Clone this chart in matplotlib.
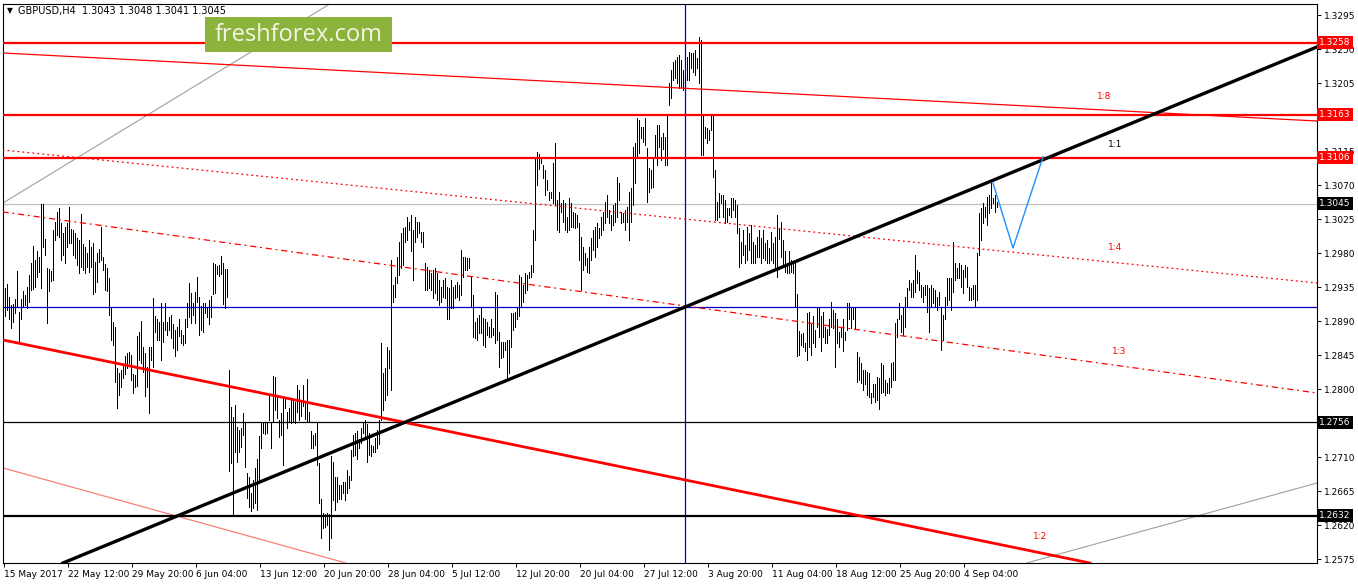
import matplotlib
matplotlib.use('Agg')
import matplotlib.pyplot as plt
from matplotlib.patches import Rectangle

# H4 bar highs / lows in pips (price * 10000), left to right
bar_high = [12909, 12934, 12939, 12922, 12911, 12913, 12919, 12956, 12902, 12919, 12930, 12925, 12935, 12951, 12967,
            12989, 12971, 12983, 12975, 13045, 13045, 12999, 12960, 12959, 12956, 13011, 13021, 13034, 13040, 13020,
            13007, 13015, 13020, 13041, 13012, 13011, 13007, 13000, 12997, 13032, 12992, 12988, 12980, 12997, 12988,
            12993, 12968, 12980, 12985, 13015, 12975, 12966, 12960, 12947, 12909, 12889, 12882, 12828, 12821, 12825,
            12832,
            12844, 12848, 12849, 12845, 12820, 12819, 12870, 12876, 12890, 12856, 12848, 12829, 12856, 12856, 12921,
            12897, 12892, 12889, 12914, 12889, 12914, 12889, 12895, 12898, 12886, 12878, 12882, 12893, 12878, 12872,
            12892, 12914, 12940, 12927, 12914, 12929, 12948, 12922, 12910, 12914, 12914, 12909, 12918, 12923, 12967,
            12966, 12963, 12964, 12976, 12967, 12959, 12959, 12825, 12776, 12763, 12779, 12750, 12746, 12749, 12768,
            12756, 12689, 12684,
            12662, 12680, 12695, 12708, 12738, 12755, 12756, 12755, 12756, 12792, 12755, 12817, 12816, 12790, 12759,
            12768, 12790, 12790, 12770, 12775, 12788, 12786, 12783, 12805, 12799, 12786, 12805, 12781, 12813, 12770,
            12744, 12739, 12742, 12756, 12702, 12655, 12636, 12635, 12636, 12635, 12711, 12704, 12684, 12684, 12673,
            12673, 12677, 12677, 12693, 12685, 12719, 12739, 12742, 12744, 12734, 12749, 12755, 12759, 12754, 12742,
            12726, 12724,
            12735, 12746, 12759, 12861, 12821, 12828, 12855, 12852, 12971, 12938,
            12948, 12975, 12995, 13007, 13013, 13015, 13028, 13021, 13030, 13011,
            13028, 13021, 13021, 13008, 13008, 12967, 12962, 12958, 12954, 12958,
            12960, 12954, 12944, 12935, 12944, 12947, 12935, 12934, 12944, 12935,
            12938, 12942, 12938, 12984, 12975, 12975, 12974, 12974, 12948, 12925,
            12889, 12894, 12898, 12909, 12894, 12892, 12889, 12882, 12892, 12881,
            12929, 12925, 12876, 12862, 12862, 12862, 12865, 12865, 12901, 12901,
            12902, 12907, 12951, 12948, 12938, 12954, 12951, 12955, 12964, 13011,
            13106, 13114, 13111, 13107, 13097, 13090, 13077, 13061, 13061, 13099,
            13126, 13050, 13061, 13046, 13050, 13046, 13028, 13053, 13046, 13034,
            13033, 13030, 13020, 13001, 12988, 12980, 12974, 12988, 13000, 13011,
            13015, 13020, 13013, 13027, 13034, 13048, 13057, 13037, 13030, 13044,
            13046, 13081, 13073, 13034, 13033, 13037, 13041, 13061, 13066, 13120,
            13126, 13159, 13156, 13147, 13147, 13159, 13119, 13093, 13090, 13107,
            13136, 13150, 13150, 13134, 13139, 13134, 13163, 13205, 13222, 13233,
            13236, 13240, 13242, 13236, 13222, 13213, 13240, 13246, 13245, 13245,
            13249, 13238, 13266, 13262, 13163, 13147, 13146, 13143, 13163, 13163,
            13090, 13048, 13060, 13057, 13057, 13050, 13040, 13040, 13053, 13053,
            13050, 13044, 13013, 12995, 13011, 12991, 13015, 13007, 13017, 12995,
            12991, 13001, 13011, 13000, 13011, 12993, 12997, 12987, 13008, 12993,
            13001, 13030, 13013, 13021, 12997, 12982, 12967, 12982, 12971, 12967,
            12968, 12926, 12877, 12873, 12874, 12861, 12901, 12902, 12888, 12896,
            12878, 12907, 12909, 12896, 12902, 12882, 12880, 12892, 12915, 12905,
            12901, 12892, 12876, 12882, 12892, 12876, 12914, 12914, 12909, 12907,
            12909, 12849, 12843, 12835, 12825, 12825, 12823, 12821, 12795, 12806,
            12806, 12816, 12815, 12835, 12832, 12812, 12808, 12815, 12835, 12836,
            12888, 12892, 12914, 12898, 12909, 12922, 12934, 12944, 12940, 12944,
            12978, 12958, 12955, 12938, 12935, 12938, 12938, 12934, 12938, 12934,
            12931, 12922, 12929, 12909, 12898, 12922, 12947, 12947, 12947, 12995,
            12967, 12960, 12967, 12964, 12958, 12964, 12962, 12935, 12934, 12938,
            12938, 12980, 13033, 13040, 13046, 13041, 13054, 13057, 13073, 13053,
            13057, 13048]
bar_low = [12884, 12897, 12905, 12893, 12881, 12889, 12901, 12909, 12864, 12892, 12909, 12911, 12907, 12915, 12931,
           12932, 12935, 12948, 12955, 12934, 12988, 12978, 12888, 12930, 12943, 12944, 12997, 13004, 13001, 12971,
           12978, 12967, 12988, 12993, 12993, 12978, 12974, 12964, 12954, 12962, 12958, 12954, 12962, 12955, 12962,
           12926, 12929, 12942, 12968, 12971, 12958, 12931, 12930, 12898, 12865, 12858, 12809, 12775, 12792, 12803,
           12815,
           12820, 12828, 12835, 12812, 12795, 12803, 12804, 12839, 12835, 12823, 12791, 12803, 12768, 12839, 12829,
           12876, 12865, 12865, 12839, 12862, 12878, 12872, 12878, 12868, 12854, 12844, 12852, 12870, 12861, 12858,
           12861, 12882, 12895, 12888, 12898, 12888, 12915, 12872, 12878, 12876, 12901, 12895, 12886, 12895, 12926,
           12927, 12952, 12950, 12952, 12913, 12907, 12922, 12692, 12702, 12633, 12717, 12704, 12717, 12723, 12739,
           12697, 12656, 12644,
           12638, 12642, 12649, 12640, 12680, 12722, 12742, 12741, 12742, 12759, 12722, 12757, 12772, 12761, 12737,
           12739, 12700, 12775, 12748, 12756, 12755, 12757, 12755, 12770, 12759, 12764, 12777, 12760, 12756, 12757,
           12722, 12722, 12726, 12700, 12649, 12603, 12616, 12618, 12620, 12587, 12603, 12653, 12640, 12651, 12655,
           12655, 12662, 12653, 12662, 12669, 12680, 12711, 12713, 12708, 12722, 12728, 12742, 12737, 12704, 12713,
           12711, 12717,
           12717, 12722, 12727, 12759, 12772, 12786, 12792, 12828, 12799, 12915,
           12922, 12940, 12951, 12960, 12964, 12995, 12997, 13011, 12982, 12944,
           12995, 13001, 13007, 12995, 12988, 12931, 12931, 12934, 12931, 12921,
           12927, 12918, 12911, 12915, 12922, 12921, 12892, 12892, 12907, 12907,
           12921, 12922, 12918, 12925, 12948, 12958, 12958, 12960, 12909, 12869,
           12868, 12865, 12874, 12874, 12858, 12855, 12872, 12869, 12869, 12872,
           12861, 12865, 12829, 12841, 12843, 12852, 12812, 12821, 12855, 12878,
           12882, 12892, 12896, 12909, 12915, 12927, 12931, 12947, 12948, 12955,
           12997, 13070, 13091, 13099, 13079, 13057, 13064, 13050, 13053, 13046,
           13044, 13011, 13008, 13034, 13021, 13011, 13008, 13011, 13015, 13015,
           13013, 13015, 12971, 12931, 12958, 12964, 12955, 12954, 12971, 12984,
           12975, 12988, 13000, 13004, 13011, 13020, 13027, 13020, 13011, 13017,
           13021, 13028, 13050, 13020, 13021, 13011, 13021, 12997, 13021, 13044,
           13073, 13106, 13113, 13132, 13127, 13123, 13048, 13061, 13066, 13068,
           13107, 13097, 13120, 13103, 13117, 13097, 13097, 13176, 13185, 13209,
           13212, 13205, 13198, 13200, 13196, 13202, 13209, 13209, 13225, 13220,
           13216, 13225, 13205, 13110, 13110, 13132, 13126, 13130, 13143, 13081,
           13024, 13024, 13028, 13046, 13027, 13020, 13021, 13030, 13028, 13037,
           13028, 13007, 12962, 12967, 12978, 12967, 12971, 12984, 12967, 12967,
           12967, 12975, 12975, 12967, 12974, 12971, 12967, 12967, 12971, 12967,
           12962, 12948, 12999, 12975, 12963, 12955, 12954, 12954, 12955, 12954,
           12909, 12844, 12845, 12858, 12856, 12850, 12839, 12856, 12845, 12861,
           12855, 12882, 12869, 12850, 12869, 12861, 12861, 12872, 12882, 12881,
           12829, 12861, 12855, 12869, 12850, 12865, 12878, 12892, 12881, 12892,
           12881, 12809, 12812, 12808, 12799, 12806, 12792, 12790, 12782, 12790,
           12783, 12786, 12774, 12795, 12796, 12792, 12795, 12795, 12802, 12812,
           12812, 12869, 12892, 12876, 12872, 12882, 12909, 12931, 12922, 12922,
           12929, 12940, 12931, 12922, 12915, 12925, 12902, 12876, 12909, 12914,
           12909, 12905, 12911, 12852, 12865, 12892, 12911, 12918, 12905, 12929,
           12944, 12947, 12947, 12935, 12927, 12948, 12935, 12918, 12918, 12919,
           12909, 12918, 12978, 12997, 13020, 13027, 13017, 13033, 13040, 13046,
           13034, 13041]

date_labels = ['15 May 2017', '22 May 12:00', '29 May 20:00', '6 Jun 04:00', '13 Jun 12:00', '20 Jun 20:00',
               '28 Jun 04:00', '5 Jul 12:00', '12 Jul 20:00', '20 Jul 04:00', '27 Jul 12:00', '3 Aug 20:00',
               '11 Aug 04:00', '18 Aug 12:00', '25 Aug 20:00', '4 Sep 04:00']
bars_per_label = 32

price_ticks = [1.2575, 1.2620, 1.2665, 1.2710, 1.2755, 1.2800, 1.2845, 1.2890, 1.2935,
               1.2980, 1.3025, 1.3070, 1.3115, 1.3160, 1.3205, 1.3250, 1.3295]
hidden_ticks = [1.2755, 1.3160]   # fully covered by price tags

red_levels = [1.3258, 1.3163, 1.3106]
black_levels = [1.2756, 1.2632]
bid_price = 1.3045
blue_level = 1.2909
blue_vline_bar = 341

# trend / fan lines: two (bar, price) anchors each
trend_main = [(341, 1.29085), (657, 1.32527)]
red_channel = [(0, 1.28649), (543.5, 1.25697)]
red_upper = [(0, 1.32447), (657, 1.31547)]
fan_14 = [(0, 1.31163), (657, 1.29403)]
fan_13 = [(0, 1.30343), (657, 1.27947)]
salmon_line = [(0, 1.26955), (92, 1.26280)]
gray_upper = [(0, 1.30462), (162.5, 1.33082)]
gray_lower = [(513.5, 1.25710), (657, 1.26756)]

zigzag_bar = [495, 505, 520]
zigzag_price = [1.30727, 1.29866, 1.31071]

fan_labels = [('1:8', 547, 1.3187, 'red'), ('1:1', 552.5, 1.3123, 'black'),
              ('1:4', 552.5, 1.2987, 'red'), ('1:3', 554.5, 1.2849, 'red'), ('1:2', 515, 1.2605, 'red')]

W, H = 1358, 584
fig = plt.figure(figsize=(W / 100, H / 100), dpi=100)
fig.patch.set_facecolor('white')
ax = fig.add_axes([2.5 / W, 1 - 563 / H, (1317 - 2.5) / W, (563 - 4) / H])
ax.set_xlim(-0.25, 657)
ax.set_ylim(1.256972, 1.330956)

n = min(len(bar_high), len(bar_low))
ax.vlines(range(n), [v / 1e4 for v in bar_low[:n]], [v / 1e4 for v in bar_high[:n]],
          colors='black', linewidth=0.72, antialiased=False, zorder=3)

for p in red_levels:
    ax.axhline(p, color='red', lw=1.6, zorder=4)
ax.axhline(black_levels[0], color='black', lw=0.9, zorder=4)
ax.axhline(black_levels[1], color='black', lw=1.6, zorder=4)
ax.axhline(bid_price, color='#c0c0c0', lw=0.9, zorder=2)
ax.axhline(blue_level, color='#0000c8', lw=0.9, zorder=2)
ax.axvline(blue_vline_bar, color='#0000c8', lw=0.9, zorder=2)

ax.axline(*trend_main, color='black', lw=2.4, zorder=5)
ax.axline(*red_channel, color='red', lw=2.0, zorder=4)
ax.axline(*red_upper, color='red', lw=0.9, zorder=4)
ax.axline(*fan_14, color='red', lw=0.9, dashes=(1.5, 2.5), zorder=4)
ax.axline(*fan_13, color='red', lw=0.9, dashes=(5, 3, 1.5, 3), zorder=4)
ax.axline(*salmon_line, color='#fa8072', lw=0.9, zorder=2)
ax.axline(*gray_upper, color='#a0a0a0', lw=0.8, zorder=2)
ax.axline(*gray_lower, color='#a0a0a0', lw=0.8, zorder=2)
ax.plot(zigzag_bar, zigzag_price, color='#1e90ff', lw=1.0, zorder=5)

for txt, bx, py, col in fan_labels:
    ax.text(bx, py, txt, color=col, fontsize=6.5, ha='left', va='center', zorder=6)

# axes styling
for s in ax.spines.values():
    s.set_color('black')
    s.set_linewidth(0.8)
ax.yaxis.tick_right()
ax.set_yticks(price_ticks)
ax.set_yticklabels(['' if p in hidden_ticks else '%.4f' % p for p in price_ticks])
ax.tick_params(axis='y', direction='out', length=3, width=0.7, pad=2, labelsize=6.5)
ax.set_xticks([0.3 + bars_per_label * k for k in range(len(date_labels))])
ax.set_xticklabels(date_labels, ha='left')
ax.tick_params(axis='x', direction='out', length=3, width=0.7, pad=2, labelsize=6.5)

# price tags on the right scale
tags = [(p, 'red') for p in red_levels] + [(bid_price, 'black')] + [(p, 'black') for p in black_levels]
for p, col in tags:
    ax.text(1.0018, p, '%.4f' % p, transform=ax.get_yaxis_transform(), color='white', fontsize=6.5,
            ha='left', va='center', clip_on=False, zorder=10,
            bbox=dict(boxstyle='square,pad=0.22', fc=col, ec='none'))

# header
fig.text(7 / W, 1 - 11 / H, '\u25bc', fontsize=5.5, va='center', ha='left')
fig.text(18 / W, 1 - 11 / H, 'GBPUSD,H4  1.3043 1.3048 1.3041 1.3045', fontsize=7, va='center', ha='left')

# watermark
fig.patches.append(Rectangle((205 / W, 1 - 52 / H), 187 / W, 35 / H, transform=fig.transFigure,
                             fc='#8cb43c', ec='none', zorder=20))
fig.text(298.5 / W, 1 - 35 / H, 'freshforex.com', color='#f5f5e6', fontsize=17, family='Open Sans',
         ha='center', va='center', zorder=21)

fig.savefig('out.png', dpi=100)
